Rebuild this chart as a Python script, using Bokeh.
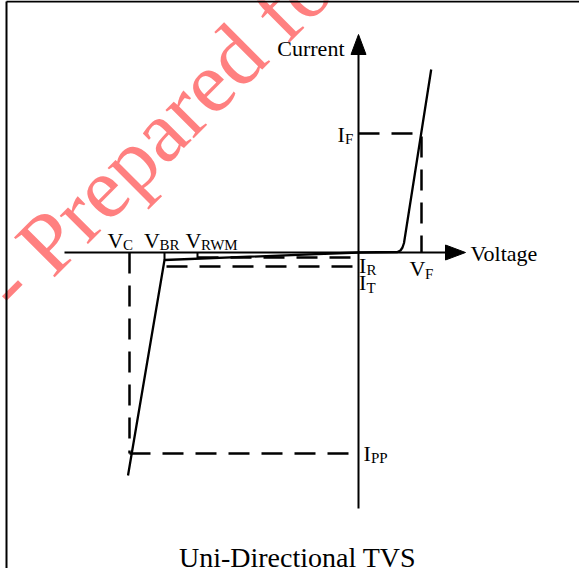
import math
from bokeh.plotting import figure
from bokeh.models import Range1d
from bokeh.core.properties import value
from bokeh.embed import file_html
from bokeh.resources import INLINE

# ---------------- data (drawing units, origin at the axis crossing) ----------------
V_C = -229
V_BR = -194
V_RWM = -161
V_F = 63
I_F = 119
I_R = -5
I_T = -14
I_PP = -201

# forward conduction curve
fwd_v = [0, 39, 42, 44, 45.5, 72.7]
fwd_i = [0, 0.5, 2, 5, 9.5, 183]
# reverse leakage + breakdown curve
rev_v = [0, V_BR, -230.5]
rev_i = [0, -7.5, -223]
leak_at_rwm = -6.3

# axis extents
volt_axis = [-294, 107]
curr_axis = [-256, 218]

axis_names = ["Current", "Voltage"]
title = "Uni-Directional TVS"
watermark_left = "Confidential -"
watermark_right = "Prepared for"

FONT = value("Liberation Serif")
BASE_K = 0.34   # renderer places the alphabetic baseline this many ems low

# ---------------- figure ----------------
X0, Y0 = 366, 260          # pixel position of the origin in the reference
W, H = 579, 568
p = figure(width=W, height=H,
           x_range=Range1d(8 - X0, 8 + W - X0),
           y_range=Range1d(Y0 - 8 - H, Y0 - 8),
           output_backend="svg", toolbar_location=None,
           x_axis_location=None, y_axis_location=None,
           min_border=0, background_fill_color="white",
           border_fill_color="white", outline_line_color=None)
p.grid.visible = False


def txt(x, y, s, size, align="left", color="black", angle=0.0):
    off = BASE_K * size
    p.text(x=[x - off * math.sin(angle)], y=[y + off * math.cos(angle)], text=[s],
           angle=angle, text_font=FONT, text_font_size=f"{size}px",
           text_color=color, text_align=align, text_baseline="alphabetic")


# ---------------- watermark (beneath everything) ----------------
ang = math.radians(45)
wm_anchor = (-306, -27)
wm_size = 87
space = 0.25 * wm_size
txt(wm_anchor[0], wm_anchor[1], watermark_right, wm_size, "left", "#ff8080", ang)
txt(wm_anchor[0] - space * math.cos(ang), wm_anchor[1] - space * math.sin(ang),
    watermark_left, wm_size, "right", "#ff8080", ang)

# ---------------- frame ----------------
left, top = 14 - X0, Y0 - 9
p.line(x=[left, left], y=[-400, top], line_color="black", line_width=2)
p.line(x=[left, 300], y=[top, top], line_color="black", line_width=2)

# ---------------- axes with arrow heads ----------------
head_len, head_half = 20, 7.5
p.line(x=[volt_axis[0], volt_axis[1] - head_len], y=[0, 0], line_color="black", line_width=2)
p.line(x=[0, 0], y=[curr_axis[0], curr_axis[1] - head_len], line_color="black", line_width=2)
p.patch(x=[volt_axis[1], volt_axis[1] - head_len, volt_axis[1] - head_len],
        y=[0, head_half, -head_half], fill_color="black", line_color="black")
p.patch(x=[0, -head_half, head_half],
        y=[curr_axis[1], curr_axis[1] - head_len, curr_axis[1] - head_len],
        fill_color="black", line_color="black")

# ---------------- dashed reference lines ----------------
dash = dict(line_color="black", line_width=2.5, line_dash="21 12")
p.line(x=[0, V_F, V_F], y=[I_F, I_F, 0], **dash)
p.line(x=[V_C, V_C], y=[0, I_PP], **dash)
p.line(x=[V_C, -6], y=[I_PP, I_PP], **dash)
p.line(x=[V_RWM, -2], y=[I_R, I_R], **dash)
p.line(x=[V_BR + 2, -2], y=[I_T, I_T], **dash)

# ---------------- ticks and curves ----------------
p.line(x=[V_RWM, V_RWM], y=[0, leak_at_rwm], line_color="black", line_width=2)
p.line(x=[V_BR, V_BR], y=[0, rev_i[1]], line_color="black", line_width=2)
p.line(x=fwd_v, y=fwd_i, line_color="black", line_width=2.3)
p.line(x=rev_v, y=rev_i, line_color="black", line_width=2.3)

# ---------------- labels ----------------
MAIN, SUB = 22, 15


def label(x, y, main, sub, align="left"):
    txt(x, y, main, MAIN, align)
    if sub:
        w = {"V": 15.5, "I": 7.5}[main]
        txt(x + w, y - 3, sub, SUB)


label(-14, curr_axis[1] - 21, axis_names[0], None, align="right")
label(volt_axis[1] + 5, -8, axis_names[1], None)
label(V_C - 22, 5, "V", "C")
label(V_BR - 20.5, 5, "V", "BR")
label(V_RWM - 12, 5, "V", "RWM")
label(V_F - 12, -23.5, "V", "F")
label(-21, I_F - 8, "I", "F")
label(0.5, -20, "I", "R")
label(0.5, -37.5, "I", "T")
label(5, I_PP - 7, "I", "PP")

txt(-61, -315, title, 28, "center")

open("out.html", "w").write(file_html(p, INLINE))
